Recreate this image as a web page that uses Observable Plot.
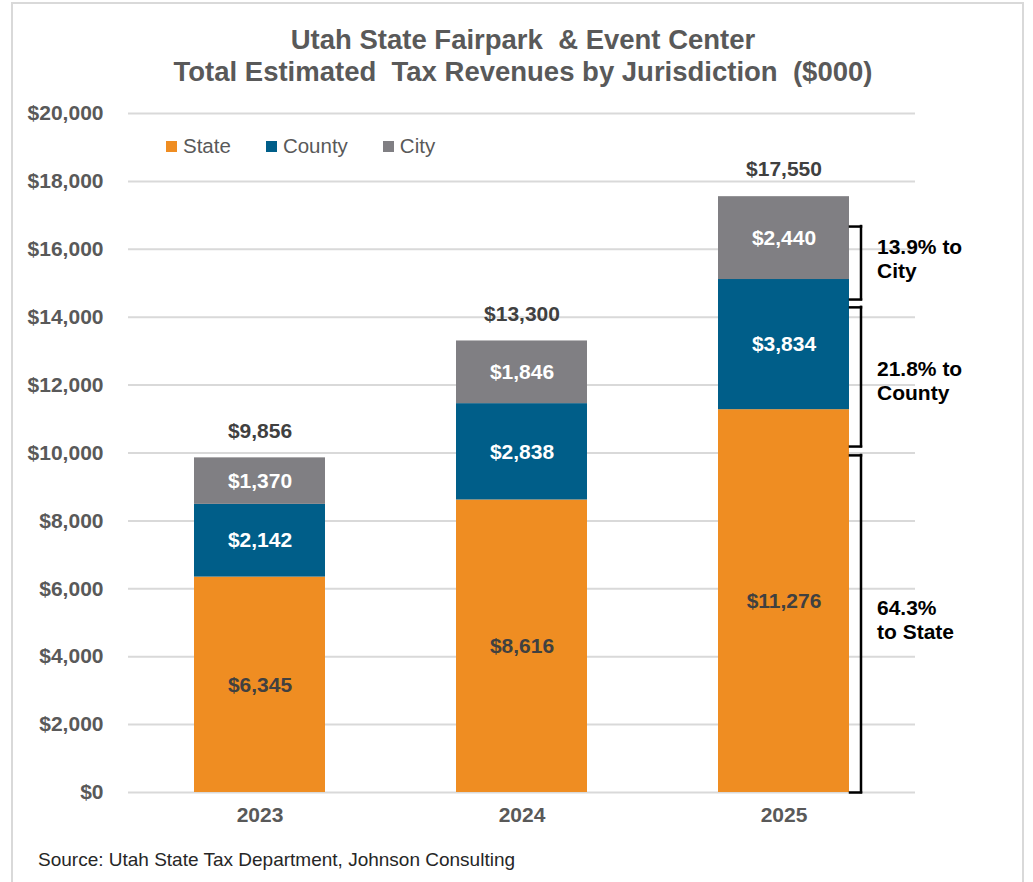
<!DOCTYPE html>
<html>
<head>
<meta charset="utf-8">
<script src="https://cdn.jsdelivr.net/npm/d3@7"></script>
<script src="https://cdn.jsdelivr.net/npm/@observablehq/plot@0.6"></script>
<style>
  html, body { margin: 0; padding: 0; background: #fff; }
  #frame { position: relative; width: 1033px; height: 882px; overflow: hidden; font-family: "Liberation Sans", Arial, sans-serif; }
  #border { position: absolute; left: 11px; top: 2px; width: 1013px; height: 920px; border: 2px solid #D9D9D9; box-sizing: border-box; }
  #title { position: absolute; left: 0; width: 1046px; top: 24px; text-align: center; font-weight: bold; font-size: 27.5px; line-height: 32px; color: #595959; white-space: pre; }
  #legend { position: absolute; left: 166px; top: 134px; display: flex; gap: 35px; font-size: 20.5px; line-height: 24px; color: #595959; }
  #legend .item { display: flex; align-items: center; gap: 6px; }
  #legend .sw { width: 11px; height: 11px; display: inline-block; }
  #chart { position: absolute; left: 0; top: 95px; }
  #source { position: absolute; left: 38px; top: 849px; font-size: 19px; line-height: 22px; color: #262626; }
</style>
</head>
<body>
<div id="frame">
  <div id="border"></div>
  <div id="title"></div>
  <div id="legend"></div>
  <div id="chart"></div>
  <div id="source"></div>
</div>
<script>
// ---- Data ----
const titleLines = ["Utah State Fairpark  & Event Center", "Total Estimated  Tax Revenues by Jurisdiction  ($000)"];
const sourceText = "Source: Utah State Tax Department, Johnson Consulting";
const years = ["2023", "2024", "2025"];
const seriesNames = ["State", "County", "City"];
const stateValues = [6345, 8616, 11276];
const countyValues = [2142, 2838, 3834];
const cityValues = [1370, 1846, 2440];
const totals = [9856, 13300, 17550];
const yTicks = [0, 2000, 4000, 6000, 8000, 10000, 12000, 14000, 16000, 18000, 20000];
const bracketLabels = ["13.9% to\nCity", "21.8% to\nCounty", "64.3%\nto State"];
const bracketLow = [14520, 10190, 0];
const bracketHigh = [16670, 14290, 9930];
const bracketMid = [15744, 12150, 5100];
const bracketYear = "2025";

// ---- Styles ----
const colors = ["#EF8D22", "#005E89", "#807F83"];
const fmt = d3.format("$,");

// ---- Build tables ----
const seriesValues = [stateValues, countyValues, cityValues];
const data = [];
seriesNames.forEach((s, si) => years.forEach((y, yi) => data.push({year: y, series: s, value: seriesValues[si][yi]})));
const totalData = years.map((y, i) => ({year: y, total: totals[i]}));
const bracketData = bracketLabels.map((l, i) => ({label: l, lo: bracketLow[i], hi: bracketHigh[i], mid: bracketMid[i], year: bracketYear}));
const bracketEnds = bracketData.flatMap(b => [{year: b.year, y: b.lo}, {year: b.year, y: b.hi}]);

document.getElementById("title").textContent = titleLines.join("\n");
document.getElementById("source").textContent = sourceText;
const legend = document.getElementById("legend");
seriesNames.forEach((s, i) => {
  const item = document.createElement("div");
  item.className = "item";
  const sw = document.createElement("span");
  sw.className = "sw";
  sw.style.background = colors[i];
  const t = document.createElement("span");
  t.textContent = s;
  item.appendChild(sw); item.appendChild(t);
  legend.appendChild(item);
});

const font = {fontSize: 21, fontWeight: "bold"};

const chart = Plot.plot({
  width: 1033,
  height: 740,
  marginLeft: 128,
  marginRight: 118,
  marginTop: 18,
  marginBottom: 43,
  style: {fontFamily: "Liberation Sans, Arial, sans-serif", background: "transparent", overflow: "visible"},
  x: {domain: years, paddingInner: 0.5, paddingOuter: 0.25, label: null},
  y: {domain: [0, 20000], label: null},
  color: {domain: seriesNames, range: colors},
  marks: [
    Plot.gridY(yTicks, {stroke: "#D9D9D9", strokeOpacity: 1, strokeWidth: 2}),
    Plot.axisY(yTicks, {tickSize: 0, tickPadding: 25, tickFormat: fmt, ...font, fill: "#595959", label: null}),
    Plot.axisX({tickSize: 0, tickPadding: 15, ...font, fill: "#595959", label: null}),
    Plot.barY(data, {x: "year", y: "value", fill: "series", order: seriesNames}),
    Plot.text(data, Plot.stackY({x: "year", y: "value", z: "series", order: seriesNames,
      text: d => d.series === "State" ? fmt(d.value) : null, fill: "#404040", ...font})),
    Plot.text(data, Plot.stackY({x: "year", y: "value", z: "series", order: seriesNames,
      text: d => d.series !== "State" ? fmt(d.value) : null, fill: "#ffffff", ...font})),
    Plot.text(totalData, {x: "year", y: "total", text: d => fmt(d.total), dy: -27, fill: "#404040", ...font}),
    Plot.ruleX(bracketData, {x: "year", y1: "lo", y2: "hi", dx: 77, stroke: "#000", strokeWidth: 2.5, strokeLinecap: "square"}),
    Plot.tickY(bracketEnds, {x: "year", y: "y", insetLeft: 120, dx: 12, stroke: "#000", strokeWidth: 2.5, strokeLinecap: "square"}),
    Plot.text(bracketData, {x: "year", y: "mid", text: "label", textAnchor: "start", dx: 93, lineHeight: 1.15, fill: "#000", ...font})
  ]
});
document.getElementById("chart").appendChild(chart);
</script>
</body>
</html>
